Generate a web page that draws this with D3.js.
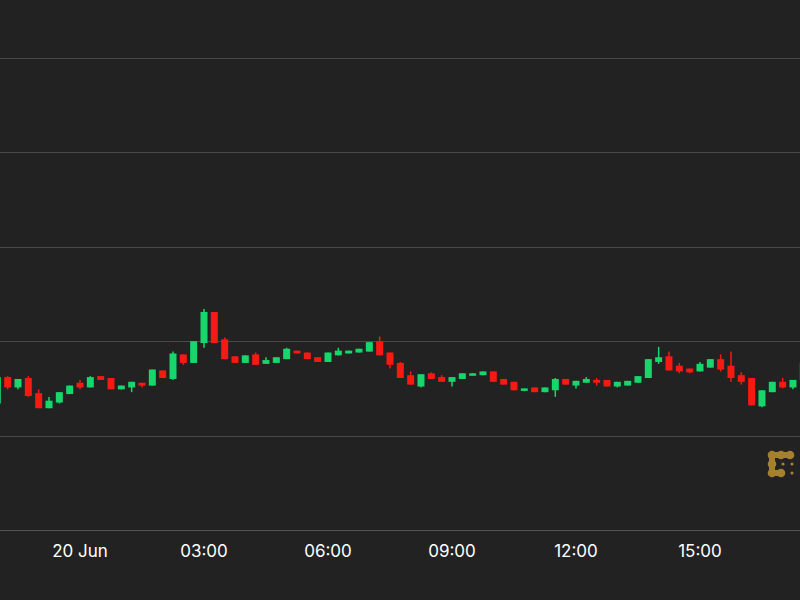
<!DOCTYPE html>
<html><head><meta charset="utf-8">
<script src="https://cdn.jsdelivr.net/npm/d3@7"></script>
<style>body{margin:0;background:#222222}</style></head>
<body><svg id="c" width="800" height="600"></svg>
<script>
// 15-minute candles starting 19 Jun 22:00 UTC
const startTime = Date.UTC(2024,5,19,22,0);
const opens  = [64934,64962,64951,64961,64945,64929,64935,64944,64956,64951,64963,64961,64949,64951,64956,64953,64969,64960,64986,64977,64998,65031,65002,64984,64977,64986,64976,64977,64981,64990,64988,64983,64978,64985,64987,64988,64989,65000,64988,64977,64964,64952,64966,64962,64957,64960,64964,64964,64968,64960,64957,64948,64951,64946,64948,64960,64953,64956,64959,64959,64952,64953,64956,64961,64978,64984,64974,64971,64968,64972,64981,64974,64964,64961,64931,64946,64957,64951,64959];
const highs  = [64963,64963,64960,64963,64949,64941,64946,64953,64959,64963,64963,64961,64953,64957,64956,64970,64969,64989,64986,65000,65034,65031,65004,64984,64985,64988,64983,64983,64993,64990,64988,64983,64988,64993,64990,64992,64999,65005,64988,64978,64968,64965,64967,64964,64962,64966,64966,64968,64968,64960,64957,64950,64951,64951,64961,64960,64958,64962,64961,64959,64957,64958,64963,64981,64994,64989,64977,64971,64978,64981,64986,64989,64967,64961,64948,64957,64961,64959,64977];
const lows   = [64933,64949,64949,64941,64929,64929,64934,64944,64949,64951,64959,64949,64949,64946,64951,64953,64961,64959,64975,64977,64993,64998,64981,64977,64977,64975,64976,64977,64981,64987,64981,64978,64978,64985,64987,64988,64989,64985,64971,64961,64954,64951,64960,64957,64952,64960,64964,64964,64957,64954,64948,64947,64946,64946,64941,64954,64950,64956,64953,64952,64951,64953,64956,64961,64976,64969,64966,64966,64968,64972,64968,64957,64954,64932,64930,64946,64950,64949,64959];
const closes = [64962,64951,64960,64942,64929,64937,64946,64953,64951,64962,64959,64949,64953,64957,64953,64970,64961,64987,64977,65000,65031,64998,64981,64977,64985,64975,64980,64983,64992,64987,64981,64978,64988,64990,64990,64992,64999,64985,64975,64961,64954,64965,64960,64957,64962,64966,64966,64968,64957,64954,64948,64950,64946,64951,64960,64954,64958,64960,64956,64952,64957,64958,64963,64981,64983,64969,64968,64967,64976,64981,64970,64961,64957,64932,64948,64957,64951,64959,64977];
const gridLevels = [64900,65000,65100,65200,65300];
const tickLabels = ["20 Jun","03:00","06:00","09:00","12:00","15:00","18:00"];

const H = 3600e3;
const day0 = Date.UTC(2024,5,20,0,0);
const svg = d3.select("#c");
const x = d3.scaleTime().domain([new Date(day0-1.9355*H), new Date(day0+17.42*H)]).range([0,800]);
const y = d3.scaleLinear().domain([64800,65300]).range([530,58]);

svg.append("rect").attr("width",800).attr("height",600).attr("fill","#222222");
svg.selectAll(".g").data(gridLevels).join("line")
  .attr("x1",0).attr("x2",800).attr("y1",d=>Math.round(y(d))+0.5).attr("y2",d=>Math.round(y(d))+0.5)
  .attr("stroke","#4a4a4a").attr("stroke-width",1);
svg.append("line").attr("x1",0).attr("x2",800).attr("y1",530.5).attr("y2",530.5).attr("stroke","#555").attr("stroke-width",1);

const tickTimes = tickLabels.map((l,i)=>new Date(day0+i*3*H));
svg.selectAll(".t").data(tickTimes).join("text")
  .attr("x",d=>x(d)).attr("y",557).attr("text-anchor","middle")
  .attr("fill","#ffffff").attr("font-family","Inter, 'Noto Sans', sans-serif").attr("font-size",17)
  .text((d,i)=>tickLabels[i]);

const candles = opens.map((o,i)=>({t:new Date(startTime+i*15*60e3),o,h:highs[i],l:lows[i],c:closes[i]}));
const bw = 7;
const g = svg.append("g");
candles.forEach(d=>{
  const col = d.c>=d.o ? "#17d66c" : "#f51a12";
  const cx = x(d.t);
  g.append("line").attr("x1",cx).attr("x2",cx).attr("y1",y(d.h)).attr("y2",y(d.l)).attr("stroke",col).attr("stroke-width",1.5);
  const top = y(Math.max(d.o,d.c)), bot = y(Math.min(d.o,d.c));
  g.append("rect").attr("x",cx-bw/2).attr("y",top).attr("width",bw).attr("height",Math.max(2.5,bot-top)).attr("fill",col);
});

// logo
const lg = svg.append("g").attr("fill","#a5802f");
[[772,455],[781,455],[790,455],[772,464],[772,473],[781,473]].forEach(p=>lg.append("circle").attr("cx",p[0]).attr("cy",p[1]).attr("r",4.3));
lg.append("path").attr("d","M772,455H790M772,455V473H781").attr("stroke","#a5802f").attr("stroke-width",6).attr("fill","none");
[[783,464],[792,464],[792,473]].forEach(p=>lg.append("circle").attr("cx",p[0]).attr("cy",p[1]).attr("r",1.6));
</script></body></html>
